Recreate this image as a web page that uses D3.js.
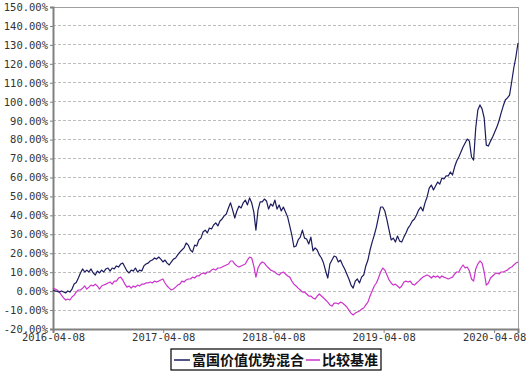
<!DOCTYPE html>
<html>
<head>
<meta charset="utf-8">
<script src="https://cdn.jsdelivr.net/npm/d3@7"></script>
<style>
  body { margin: 0; background: #fff; }
  svg { display: block; }
  .axis text { font-family: "DejaVu Sans Mono", monospace; font-size: 10.5px; fill: #333; }
  .legend text { font-family: "Noto Sans CJK SC", sans-serif; font-size: 14px; font-weight: bold; fill: #111; }
</style>
</head>
<body>
<svg id="chart" width="529" height="379"></svg>
<script>
// weekly cumulative return (%), one value per Friday from startDate
var startDate = '2016-04-08';
var endDate = '2020-06-26';
var tickDates = ['2016-04-08', '2017-04-08', '2018-04-08', '2019-04-08', '2020-04-08'];
var yTicks = [-20, -10, 0, 10, 20, 30, 40, 50, 60, 70, 80, 90, 100, 110, 120, 130, 140, 150];
var seriesNames = ['富国价值优势混合', '比较基准'];

var fund = [
  0.6, 0.1, -0.2, -0.5, 0.1, -0.5, -1.0, 0.1, -0.5, 1.1,
  3.7, 4.5, 6.9, 9.6, 11.7, 10.1, 11.1, 10.1, 11.7, 9.6,
  8.5, 10.6, 9.6, 11.1, 10.1, 11.7, 12.2, 10.6, 12.2, 11.7,
  13.3, 12.7, 14.3, 14.8, 12.7, 10.6, 9.6, 11.1, 10.6, 12.2,
  10.1, 11.1, 10.6, 13.3, 14.3, 14.8, 15.9, 16.4, 17.5, 16.9,
  18.0, 16.9, 15.4, 16.4, 14.8, 13.8, 15.4, 16.9, 17.5, 19.1,
  20.6, 21.7, 22.8, 25.4, 24.3, 21.7, 20.6, 24.3, 23.8, 27.0,
  28.0, 31.2, 32.2, 30.7, 33.3, 32.8, 34.9, 36.0, 34.4, 37.0,
  38.1, 39.7, 40.7, 43.9, 46.6, 42.8, 38.6, 42.3, 44.9, 43.9,
  46.6, 48.1, 45.5, 49.2, 46.6, 41.8, 32.2, 42.8, 47.1, 47.1,
  48.6, 47.6, 43.3, 46.0, 44.9, 48.1, 43.3, 45.5, 42.3, 44.4,
  41.8, 39.2, 34.4, 29.6, 23.3, 23.8, 27.0, 28.5, 32.2, 28.0,
  27.5, 24.9, 28.5, 21.2, 22.8, 21.7, 19.1, 17.5, 14.8, 10.6,
  6.9, 14.3, 16.4, 18.5, 18.0, 15.4, 16.4, 13.8, 11.7, 9.0,
  6.4, 3.2, 1.6, 5.3, 6.4, 4.3, 7.4, 8.5, 13.3, 16.4,
  21.7, 25.9, 29.6, 33.8, 39.2, 44.4, 44.4, 42.3, 37.6, 32.2,
  27.0, 28.0, 25.9, 29.1, 26.4, 25.9, 28.5, 30.7, 33.3, 34.9,
  37.0, 38.1, 40.2, 42.8, 44.4, 42.3, 46.6, 49.7, 54.4, 56.0,
  53.4, 55.5, 57.6, 56.5, 59.7, 59.2, 60.8, 60.8, 62.9, 61.3,
  65.5, 68.7, 70.8, 73.4, 76.1, 78.2, 80.3, 79.2, 70.8, 69.2,
  86.1, 95.6, 98.3, 96.2, 91.4, 77.1, 76.6, 79.2, 81.4, 84.0,
  86.6, 89.8, 94.0, 97.7, 100.9, 102.0, 103.5, 110.4, 117.8, 123.6,
  131.0
];

var bench = [
  1.6, 1.1, 0.6, -0.5, -2.1, -3.6, -4.7, -4.2, -4.7, -3.1,
  -2.1, -0.5, 0.6, 0.6, 1.6, 2.7, 1.1, 2.1, 3.2, 2.7,
  3.7, 2.7, 1.1, 2.7, 3.2, 3.7, 4.3, 4.8, 3.7, 5.3,
  5.3, 6.9, 7.4, 5.9, 3.7, 2.1, 2.7, 1.6, 2.7, 2.1,
  3.2, 2.7, 3.7, 3.7, 4.3, 4.3, 4.8, 4.3, 5.3, 4.8,
  5.3, 5.9, 6.4, 4.3, 2.7, 1.6, 0.6, 1.1, 2.1, 3.2,
  3.7, 5.3, 4.8, 5.9, 6.4, 6.4, 7.4, 6.9, 8.0, 8.0,
  9.0, 9.6, 9.0, 10.1, 10.1, 11.1, 11.7, 11.1, 12.2, 12.2,
  12.7, 13.3, 13.8, 14.3, 15.9, 15.9, 14.3, 13.3, 12.7, 13.3,
  13.8, 14.3, 16.4, 18.0, 17.5, 13.3, 7.4, 12.2, 14.3, 15.4,
  14.8, 13.3, 12.2, 11.1, 10.6, 10.1, 9.0, 8.5, 9.6, 10.1,
  9.0, 8.0, 7.4, 5.3, 3.7, 2.7, 1.6, 0.6, -0.5, -0.5,
  -1.5, -2.6, -2.6, -3.6, -4.2, -2.6, -1.5, -2.6, -3.6, -4.7,
  -5.8, -7.3, -7.9, -6.3, -6.3, -6.8, -5.8, -6.3, -7.3, -8.4,
  -10.0, -11.6, -12.6, -11.6, -11.0, -10.5, -9.5, -8.9, -7.3, -5.8,
  -2.6, 0.1, 2.7, 4.3, 6.9, 10.1, 12.2, 11.1, 8.5, 5.9,
  4.3, 3.2, 3.7, 2.7, 1.6, 2.7, 4.8, 5.3, 4.8, 5.3,
  3.7, 3.2, 4.3, 5.3, 6.4, 7.4, 8.0, 8.5, 8.0, 6.9,
  8.0, 7.4, 8.0, 6.9, 8.0, 7.4, 6.9, 6.4, 6.9, 7.4,
  9.0, 10.1, 10.1, 12.2, 13.8, 12.2, 12.7, 10.6, 6.4, 5.3,
  11.7, 14.3, 15.9, 14.8, 10.1, 3.2, 4.3, 6.9, 8.0, 9.0,
  9.6, 9.0, 10.1, 10.1, 10.6, 11.1, 12.2, 12.7, 13.8, 14.8,
  15.4
];

var colors = ['#1b1b5e', '#cc33cc'];

var
  margin = {top: 7, right: 11, bottom: 50, left: 53},
  svg = d3.select('#chart'),
  width = +svg.attr('width') - margin.left - margin.right,
  height = +svg.attr('height') - margin.top - margin.bottom,
  parseDate = d3.timeParse('%Y-%m-%d'),
  start = parseDate(startDate),
  dates = fund.map(function(d, i){ return d3.timeDay.offset(start, 7 * i); })
  ;

var xScale = d3.scaleTime()
  .domain([start, parseDate(endDate)])
  .range([0, width]);

var yScale = d3.scaleLinear()
  .domain([-20, 150])
  .range([height, 0]);

var g = svg.append('g')
  .attr('transform', 'translate(' + margin.left + ',' + margin.top + ')');

// dashed grid
g.append('g')
  .selectAll('line')
  .data(yTicks.slice(1, -1))
  .enter().append('line')
  .attr('x1', 0)
  .attr('x2', width)
  .attr('y1', function(d){ return yScale(d); })
  .attr('y2', function(d){ return yScale(d); })
  .attr('stroke', '#bdbdbd')
  .attr('stroke-dasharray', '3,2')
  .attr('shape-rendering', 'crispEdges');

// frame
g.append('rect')
  .attr('width', width)
  .attr('height', height)
  .attr('fill', 'none')
  .attr('stroke', '#a0a0a0')
  .attr('shape-rendering', 'crispEdges');

var axisY = d3.axisLeft(yScale)
  .tickValues(yTicks)
  .tickFormat(function(d){ return d.toFixed(2) + '%'; })
  .tickSize(3)
  .tickPadding(2);

var axisX = d3.axisBottom(xScale)
  .tickValues(tickDates.map(parseDate))
  .tickFormat(d3.timeFormat('%Y-%m-%d'))
  .tickSize(4)
  .tickPadding(1);

g.append('g')
  .attr('class', 'axis axis--y')
  .call(axisY)
  .call(function(a){
    a.select('.domain').attr('stroke', '#808080').attr('stroke-width', 2);
    a.selectAll('.tick line').attr('stroke', '#808080');
  });

g.append('g')
  .attr('class', 'axis axis--x')
  .attr('transform', 'translate(0,' + height + ')')
  .call(axisX)
  .call(function(a){
    a.select('.domain').attr('stroke', '#808080').attr('stroke-width', 2);
    a.selectAll('.tick line').attr('stroke', '#808080');
  });

var line = d3.line()
  .x(function(d){ return xScale(d.date); })
  .y(function(d){ return yScale(d.value); });

[bench, fund].forEach(function(values, i){
  var c = i === 0 ? colors[1] : colors[0];
  g.append('path')
    .datum(values.map(function(v, j){ return {date: dates[j], value: v}; }))
    .attr('class', 'line')
    .attr('fill', 'none')
    .attr('stroke', c)
    .attr('stroke-width', 1.2)
    .attr('stroke-linejoin', 'round')
    .attr('d', line);
});

// legend
var legend = svg.append('g')
  .attr('class', 'legend')
  .attr('transform', 'translate(171,349)');

legend.append('rect')
  .attr('width', 210)
  .attr('height', 21)
  .attr('fill', '#fff')
  .attr('stroke', '#000')
  .attr('stroke-width', 1.2);

var items = [{x: 3, w: 16}, {x: 135, w: 14}];
seriesNames.forEach(function(name, i){
  var item = legend.append('g').attr('transform', 'translate(' + items[i].x + ',0)');
  item.append('line')
    .attr('x1', 0).attr('x2', items[i].w)
    .attr('y1', 11).attr('y2', 11)
    .attr('stroke', colors[i])
    .attr('stroke-width', 1.5);
  item.append('text')
    .attr('x', items[i].w + 2)
    .attr('y', 16)
    .text(name);
});
</script>
</body>
</html>
